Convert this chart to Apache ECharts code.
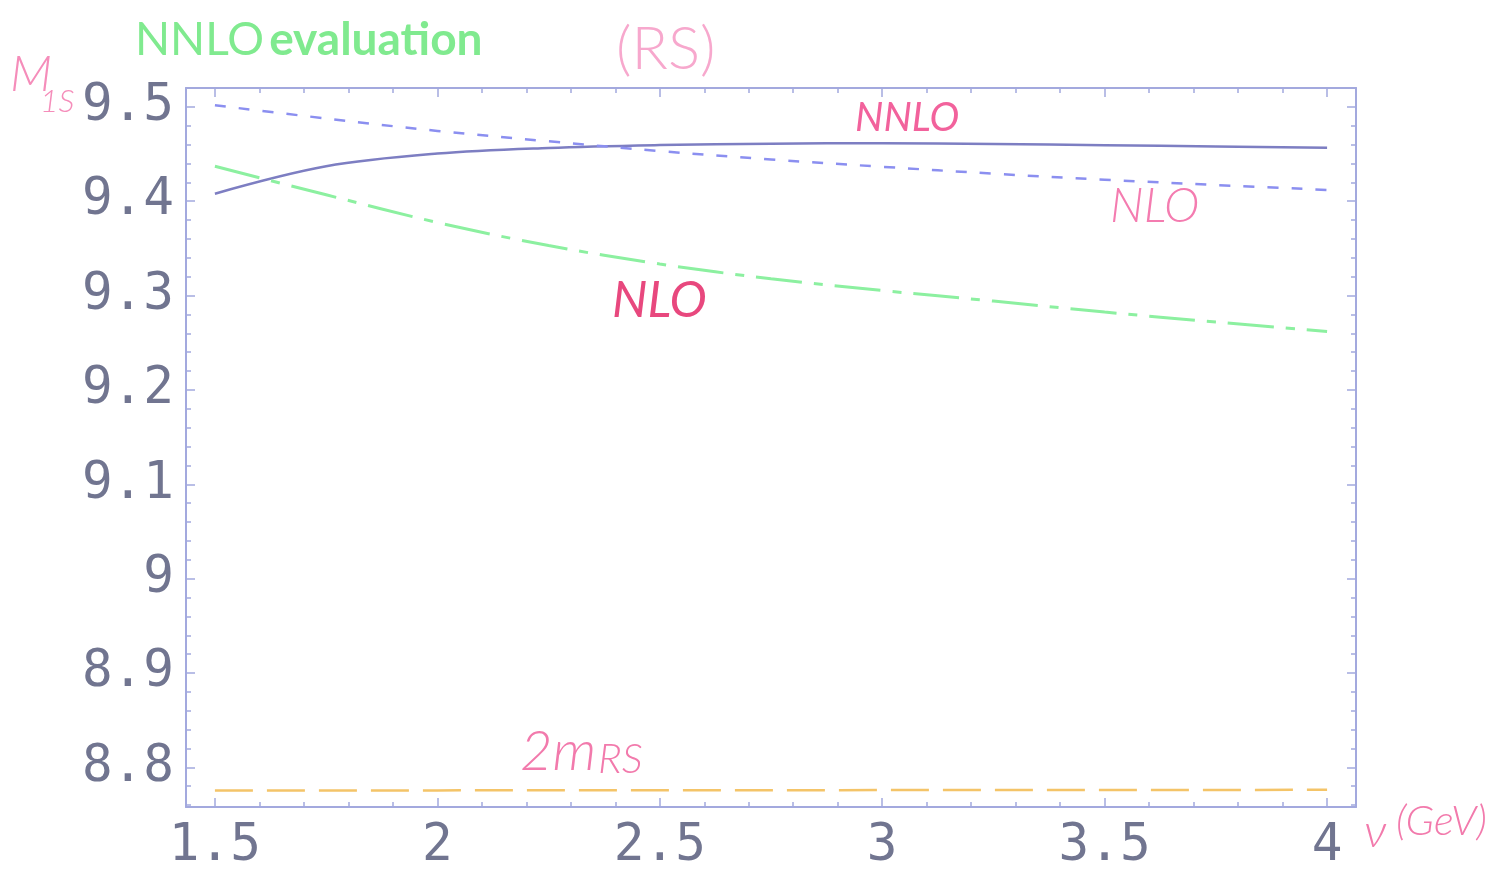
<!DOCTYPE html>
<html>
<head>
<meta charset="utf-8">
<script src="https://cdn.jsdelivr.net/npm/echarts@6/dist/echarts.min.js"></script>
<style>
html,body{margin:0;padding:0;background:#fff;}
#chart{width:1503px;height:874px;}
</style>
</head>
<body>
<div id="chart"></div>
<script>
// renormalization scale nu (GeV)
const nu = [1.5, 1.75, 2.0, 2.25, 2.5, 2.75, 3.0, 3.25, 3.5, 3.75, 4.0];
// M_1S (GeV) in the RS scheme
const nnlo = [9.408, 9.437, 9.4505, 9.4565, 9.4595, 9.461, 9.4614, 9.4606, 9.4594, 9.458, 9.4566];
const nlo  = [9.5017, 9.4877, 9.4745, 9.4635, 9.4532, 9.4442, 9.4365, 9.4292, 9.4228, 9.4172, 9.412];
const lo   = [9.437, 9.4068, 9.3775, 9.353, 9.3335, 9.3178, 9.3054, 9.2942, 9.2825, 9.272, 9.262];
const twoMrs = [8.7755, 8.7756, 8.7756, 8.7757, 8.7757, 8.7758, 8.7759, 8.776, 8.776, 8.7761, 8.7762];

const xMajorTicks = [1.5, 2, 2.5, 3, 3.5, 4];
const xMinorTicks = [1.5, 1.6, 1.7, 1.8, 1.9, 2.0, 2.1, 2.2, 2.3, 2.4, 2.5, 2.6, 2.7, 2.8, 2.9, 3.0, 3.1, 3.2, 3.3, 3.4, 3.5, 3.6, 3.7, 3.8, 3.9, 4.0];
const yMajorTicks = [8.8, 8.9, 9, 9.1, 9.2, 9.3, 9.4, 9.5];
const yMinorTicks = [8.76, 8.78, 8.8, 8.82, 8.84, 8.86, 8.88, 8.9, 8.92, 8.94, 8.96, 8.98, 9.0, 9.02, 9.04, 9.06, 9.08, 9.1, 9.12, 9.14, 9.16, 9.18, 9.2, 9.22, 9.24, 9.26, 9.28, 9.3, 9.32, 9.34, 9.36, 9.38, 9.4, 9.42, 9.44, 9.46, 9.48, 9.5];

const xRange = [1.435, 4.065];
const yRange = [8.758, 9.52];

const frameColor = '#a3a9de';
const labelColor = '#717590';
const pink = '#f27aac';

function pairs(ys) { return nu.map((x, i) => [x, ys[i]]); }

function xAxisDef(pos, ticks, len, showLine, showLabel) {
  return {
    type: 'value', position: pos, min: xRange[0], max: xRange[1],
    axisLine: { show: showLine, onZero: false, lineStyle: { color: frameColor, width: 2 } },
    axisTick: { show: true, inside: true, length: len, customValues: ticks, lineStyle: { color: frameColor, width: 1.5 } },
    axisLabel: { show: showLabel, customValues: xMajorTicks, fontFamily: 'DejaVu Sans Mono', fontSize: 51, color: labelColor, margin: 14 },
    splitLine: { show: false }
  };
}
function yAxisDef(pos, ticks, len, showLine, showLabel) {
  return {
    type: 'value', position: pos, min: yRange[0], max: yRange[1],
    axisLine: { show: showLine, onZero: false, lineStyle: { color: frameColor, width: 2 } },
    axisTick: { show: true, inside: true, length: len, customValues: ticks, lineStyle: { color: frameColor, width: 1.5 } },
    axisLabel: { show: showLabel, customValues: yMajorTicks, fontFamily: 'DejaVu Sans Mono', fontSize: 51, color: labelColor, margin: 12 },
    splitLine: { show: false }
  };
}

const chart = echarts.init(document.getElementById('chart'), null, { renderer: 'canvas' });
chart.setOption({
  animation: false,
  backgroundColor: '#ffffff',
  title: {
    text: '{a|NNLO} {b|evaluation}',
    left: 130, top: 12,
    textStyle: {
      rich: {
        a: { fontFamily: 'Lato', fontSize: 46, fontWeight: 400, color: '#80ea8f' },
        b: { fontFamily: 'Lato', fontSize: 46, fontWeight: 700, color: '#80ea8f' }
      }
    }
  },
  grid: { left: 186, top: 88, width: 1170, height: 719, containLabel: false },
  xAxis: [
    xAxisDef('bottom', xMajorTicks, 9, true, true),
    xAxisDef('bottom', xMinorTicks, 5, false, false),
    xAxisDef('top', xMajorTicks, 9, true, false),
    xAxisDef('top', xMinorTicks, 5, false, false)
  ],
  yAxis: [
    yAxisDef('left', yMajorTicks, 9, true, true),
    yAxisDef('left', yMinorTicks, 5, false, false),
    yAxisDef('right', yMajorTicks, 9, true, false),
    yAxisDef('right', yMinorTicks, 5, false, false)
  ],
  series: [
    { name: 'NNLO', type: 'line', data: pairs(nnlo), showSymbol: false, smooth: 0.35,
      lineStyle: { color: '#7d7ec2', width: 2.5, type: 'solid' } },
    { name: 'NLO', type: 'line', data: pairs(nlo), showSymbol: false, smooth: 0.35,
      lineStyle: { color: '#8b8ff0', width: 2.5, type: [11, 13] } },
    { name: 'LO', type: 'line', data: pairs(lo), showSymbol: false, smooth: 0.35,
      lineStyle: { color: '#8cf0a0', width: 3, type: [46, 12, 9, 12] } },
    { name: '2m_RS', type: 'line', data: pairs(twoMrs), showSymbol: false,
      lineStyle: { color: '#f4c468', width: 2.5, type: [38, 14] } }
  ],
  graphic: [
    { type: 'text', left: 10, top: 50, style: { text: 'M', font: 'italic 300 50px Lato', fill: '#f58dba' } },
    { type: 'text', left: 40, top: 86, style: { text: '1S', font: 'italic 300 32px Lato', fill: '#f58dba' } },
    { type: 'text', left: 616, top: 20, style: { text: '(RS)', font: '300 60px Lato', fill: '#f7a8cd' } },
    { type: 'text', left: 855, top: 98, style: { text: 'NNLO', font: 'italic 400 40px Lato', fill: '#f2629c' } },
    { type: 'text', left: 1110, top: 183, style: { text: 'NLO', font: 'italic 300 48px Lato', fill: '#f47cb0' } },
    { type: 'text', left: 612, top: 276, style: { text: 'NLO', font: 'italic 400 50px Lato', fill: '#e8487e' } },
    { type: 'text', left: 520, top: 724, style: { text: '2m', font: 'italic 300 56px Lato', fill: pink } },
    { type: 'text', left: 598, top: 738, style: { text: 'RS', font: 'italic 300 42px Lato', fill: pink } },
    { type: 'text', left: 1364, top: 808, style: { text: 'ν', font: 'italic 300 48px Lato', fill: pink } },
    { type: 'text', left: 1396, top: 800, style: { text: '(GeV)', font: 'italic 300 42px Lato', fill: pink } }
  ]
});
</script>
</body>
</html>
